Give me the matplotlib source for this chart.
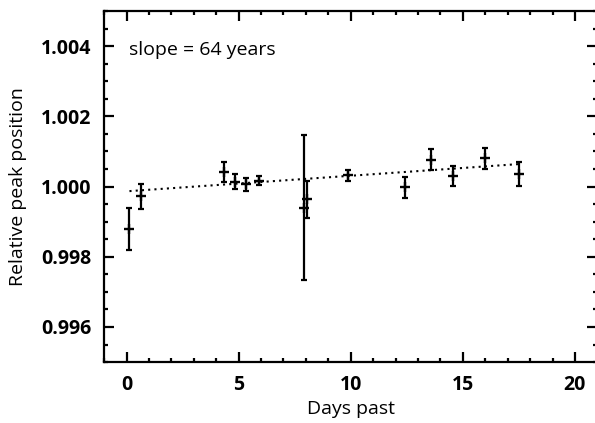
import numpy as np
import matplotlib as mpl
import matplotlib.pyplot as plt
from matplotlib.ticker import MultipleLocator, FormatStrFormatter

days = [0.13, 0.63, 4.35, 4.85, 5.34, 5.89, 7.92, 8.07, 9.88,
        12.44, 13.56, 14.58, 16.00, 17.50]
peak = [0.99879, 0.99972, 1.00042, 1.00014, 1.00006, 1.00017, 0.99940, 0.99964,
        1.00032, 0.99998, 1.00077, 1.00030, 1.00080, 1.00036]
peak_err = [0.00059, 0.00036, 0.00029, 0.00021, 0.00018, 0.00014, 0.00207, 0.00053,
            0.00015, 0.00030, 0.00030, 0.00029, 0.00030, 0.00034]

# linear fit drawn as dotted line
fit_x = [0.13, 17.50]
fit_y = [0.99987, 1.00064]

slope_text = "slope = 64 years"

mpl.rcParams.update({
    "font.family": "Open Sans",
    "axes.linewidth": 1.6,
})

fig = plt.figure(figsize=(5.95, 4.23), dpi=100)
ax = fig.add_axes([0.175, 0.144, 0.829, 0.830])

ax.errorbar(days, peak, yerr=peak_err, fmt="none", ecolor="black",
            elinewidth=1.6, capsize=2.2, capthick=1.6)
ax.plot(days, peak, ls="none", marker="+", ms=7.5, mew=1.7, color="black")

ax.plot(fit_x, fit_y, color="black", lw=1.5, ls=(0, (1, 2)))

ax.text(0.051, 0.89, slope_text, transform=ax.transAxes, fontsize=14,
        ha="left", va="center")

ax.set_xlim(-1, 21)
ax.set_ylim(0.995, 1.005)
ax.xaxis.set_major_locator(MultipleLocator(5))
ax.xaxis.set_minor_locator(MultipleLocator(1))
ax.yaxis.set_major_locator(MultipleLocator(0.002))
ax.yaxis.set_minor_locator(MultipleLocator(0.0005))
ax.yaxis.set_major_formatter(FormatStrFormatter("%.3f"))

ax.tick_params(which="both", direction="in", top=True, right=True, width=1.6)
ax.tick_params(which="major", length=7)
ax.tick_params(which="minor", length=3.2)
ax.tick_params(axis="y", pad=9)
ax.tick_params(axis="x", pad=9)
for lab in ax.get_xticklabels() + ax.get_yticklabels():
    lab.set_fontsize(14)
    lab.set_fontweight("bold")

ax.set_xlabel("Days past", fontsize=14, labelpad=4)
ax.set_ylabel("Relative peak position", fontsize=14, labelpad=10)

fig.savefig("out.png", dpi=100)
